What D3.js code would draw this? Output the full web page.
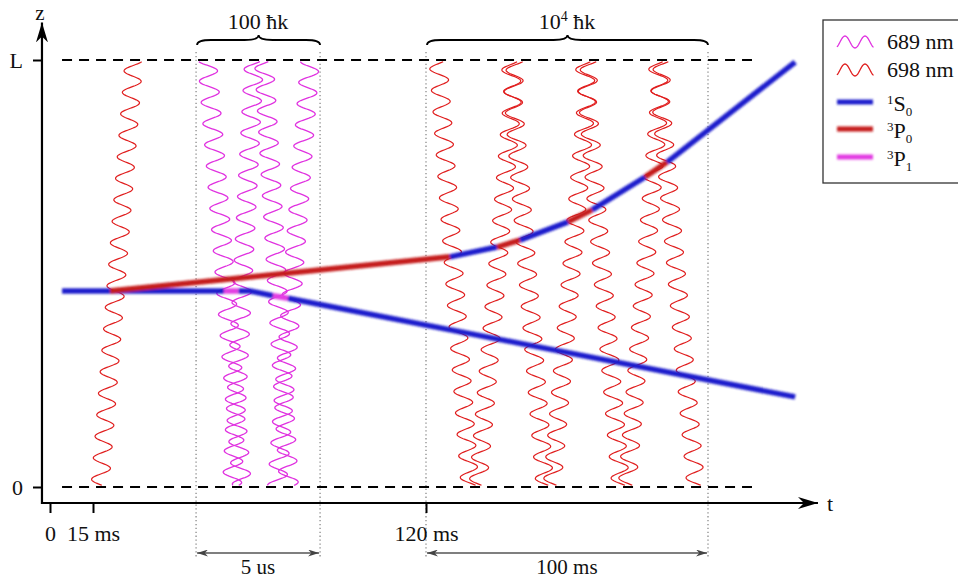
<!DOCTYPE html>
<html>
<head>
<meta charset="utf-8">
<script src="https://cdn.jsdelivr.net/npm/d3@7"></script>
<style>
  body { margin: 0; background: #fff; }
  svg { display: block; }
  svg text { font-family: "Liberation Serif", "Times New Roman", Times, "DejaVu Serif", serif; fill: #111; }
</style>
</head>
<body>
<div id="chart"></div>
<script>
// axis ticks
const timeTicks = [0, 15, 120];
const timeTickLabels = ["0", "15 ms", "120 ms"];
const zTicks = [0, 1];
const zTickLabels = ["0", "L"];

// pulse windows, in schematic ms along the time axis
const window689 = [47.5, 86.6];
const window698 = [120, 220];
const windowLabels = ["5 us", "100 ms"];

// laser pulses: centre time at the top (z = L) and at the bottom (z = 0)
const pulses698 = [
    { tTop: 27.9, tBottom: 17.2, phase: 0 },
    { tTop: 124.3, tBottom: 135.6, phase: 0.5 },
    { tTop: 149.8, tBottom: 162.2, phase: 0.2 },
    { tTop: 151.9, tBottom: 138.4, phase: 0.2 },
    { tTop: 176.0, tBottom: 189.1, phase: 0.3 },
    { tTop: 178.2, tBottom: 164.7, phase: 0.3 },
    { tTop: 201.9, tBottom: 215.7, phase: 0.4 },
    { tTop: 204.0, tBottom: 191.3, phase: 0.4 }
];
const pulses689 = [
    { tTop: 51.0, tBottom: 62.0, phase: 3.1 },
    { tTop: 65.8, tBottom: 58.8, phase: 0.4 },
    { tTop: 68.9, tBottom: 76.8, phase: 0.6 },
    { tTop: 83.4, tBottom: 73.0, phase: 2.8 }
];

// atom trajectories: [t (ms), z (fraction of L)] per internal state
const lowerArm = [
    { state: "1S0", pts: [[4.2, 0.459], [56.3, 0.459]] },
    { state: "3P1", pts: [[56.3, 0.459], [60.9, 0.459]] },
    { state: "1S0", pts: [[60.9, 0.459], [64.5, 0.459], [71.8, 0.448]] },
    { state: "3P1", pts: [[71.8, 0.448], [76.5, 0.442]] },
    { state: "1S0", pts: [[76.5, 0.442], [250.9, 0.211]] }
];
const upperArm = [
    { state: "3P0", pts: [[20.4, 0.459], [128.5, 0.539]] },
    { state: "1S0", pts: [[128.5, 0.539], [145.2, 0.562]] },
    { state: "3P0", pts: [[145.2, 0.562], [153.3, 0.578]] },
    { state: "1S0", pts: [[153.3, 0.578], [170.4, 0.621]] },
    { state: "3P0", pts: [[170.4, 0.621], [178.9, 0.649]] },
    { state: "1S0", pts: [[178.9, 0.649], [197.7, 0.726]] },
    { state: "3P0", pts: [[197.7, 0.726], [205.5, 0.761]] },
    { state: "1S0", pts: [[205.5, 0.761], [250.9, 0.995]] }
];

const stateColor = { "1S0": "#1f1fcc", "3P0": "#c51a1a", "3P1": "#e23ee2" };
const waveColor = { 689: "#e032e0", 698: "#e01e1e" };

const width = 958, height = 578;

const svg = d3.select("#chart")
    .append("svg")
    .attr("width", width)
    .attr("height", height);

// piecewise time axis (schematic)
const x = d3.scaleLinear()
    .domain([0, 15, 120, 220])
    .range([50, 93, 426, 708]);
const z = d3.scaleLinear()
    .domain([0, 1])
    .range([487, 60]);

const axisT = -2.8, axisZ = -0.0375;
const axisTEnd = 259, axisZEnd = 1.088;

const defs = svg.append("defs");
defs.append("filter")
    .attr("id", "soft")
    .attr("filterUnits", "userSpaceOnUse")
    .attr("x", -200).attr("y", -200)
    .attr("width", 1400).attr("height", 1000)
    .append("feGaussianBlur")
    .attr("stdDeviation", 1.1);

const arrow = (id, w, h, fill) => defs.append("marker")
    .attr("id", id)
    .attr("viewBox", `0 0 ${w} ${h}`)
    .attr("refX", w).attr("refY", h / 2)
    .attr("markerWidth", w).attr("markerHeight", h)
    .attr("markerUnits", "userSpaceOnUse")
    .attr("orient", "auto-start-reverse")
    .append("path")
    .attr("d", `M0,0 L${w},${h / 2} L0,${h} L${w * 0.3},${h / 2} Z`)
    .attr("fill", fill);
arrow("axisArrow", 20, 12, "#000");
arrow("dimArrow", 11, 7, "#444");

// dotted window boundaries
const bounds = [...window689, ...window698];
svg.append("g")
    .selectAll("line")
    .data(bounds)
    .join("line")
    .attr("x1", d => x(d)).attr("x2", d => x(d))
    .attr("y1", z(1) - 8).attr("y2", z(0) + 71)
    .attr("stroke", "#8a8a8a")
    .attr("stroke-width", 1.3)
    .attr("stroke-dasharray", "1.3,2.6");

// dashed lines at z = 0 and z = L
svg.append("g")
    .selectAll("line")
    .data(zTicks)
    .join("line")
    .attr("x1", x(4.2)).attr("x2", x(235.6))
    .attr("y1", d => z(d)).attr("y2", d => z(d))
    .attr("stroke", "#000")
    .attr("stroke-width", 2)
    .attr("stroke-dasharray", "10,7");

// laser pulses as wave packets
function wavePath(p, lambdaPx, amp) {
    const n = 600, span = z(0) - z(1);
    const pts = d3.range(n + 1).map(i => {
        const zz = 0.004 + 0.992 * i / n;
        const tc = p.tBottom + (p.tTop - p.tBottom) * zz;
        const s = (1 - zz) * span / lambdaPx;
        return [x(tc) + amp * Math.cos(2 * Math.PI * s + p.phase), z(zz)];
    });
    return d3.line()(pts);
}

svg.append("g")
    .selectAll("path")
    .data(pulses698)
    .join("path")
    .attr("d", d => wavePath(d, 21.5, 9))
    .attr("fill", "none")
    .attr("stroke", waveColor[698])
    .attr("stroke-width", 1.2);

svg.append("g")
    .selectAll("path")
    .data(pulses689)
    .join("path")
    .attr("d", d => wavePath(d, 21.2, 9.5))
    .attr("fill", "none")
    .attr("stroke", waveColor[689])
    .attr("stroke-width", 1.3);

// atom trajectories
const trajLine = d3.line()
    .x(d => x(d[0]))
    .y(d => z(d[1]));

const trajG = svg.append("g").attr("filter", "url(#soft)");
trajG.selectAll("path")
    .data([...lowerArm, ...upperArm])
    .join("path")
    .attr("d", d => trajLine(d.pts))
    .attr("fill", "none")
    .attr("stroke", d => stateColor[d.state])
    .attr("stroke-width", 5.5)
    .attr("stroke-linecap", "butt");

// axes
const xAxis = d3.axisBottom(x)
    .tickValues(timeTicks)
    .tickFormat((d, i) => timeTickLabels[i])
    .tickSize(10)
    .tickPadding(12);
svg.append("g")
    .attr("transform", `translate(0,${z(axisZ)})`)
    .call(xAxis)
    .call(g => g.select(".domain").remove())
    .call(g => g.selectAll(".tick line").attr("stroke-width", 2))
    .attr("font-size", 22);

const zAxis = d3.axisLeft(z)
    .tickValues(zTicks)
    .tickFormat((d, i) => zTickLabels[i])
    .tickSize(9)
    .tickPadding(10);
svg.append("g")
    .attr("transform", `translate(${x(axisT)},0)`)
    .call(zAxis)
    .call(g => g.select(".domain").remove())
    .call(g => g.selectAll(".tick line").attr("stroke-width", 2))
    .attr("font-size", 22);

svg.append("line")
    .attr("x1", x(axisT) - 1).attr("y1", z(axisZ))
    .attr("x2", x(axisTEnd)).attr("y2", z(axisZ))
    .attr("stroke", "#000").attr("stroke-width", 2.2)
    .attr("marker-end", "url(#axisArrow)");
svg.append("line")
    .attr("x1", x(axisT)).attr("y1", z(axisZ) + 1)
    .attr("x2", x(axisT)).attr("y2", z(axisZEnd))
    .attr("stroke", "#000").attr("stroke-width", 2.2)
    .attr("marker-end", "url(#axisArrow)");

svg.append("text")
    .attr("x", x(axisT) - 2).attr("y", 20)
    .attr("text-anchor", "middle")
    .attr("font-size", 21)
    .text("z");
svg.append("text")
    .attr("x", x(axisTEnd) + 12).attr("y", z(axisZ) + 8)
    .attr("text-anchor", "middle")
    .attr("font-size", 22)
    .text("t");

// duration arrows under the axis
[window689, window698].forEach((w, i) => {
    const yA = z(0) + 66;
    svg.append("line")
        .attr("x1", x(w[0]) + 1).attr("x2", x(w[1]) - 1)
        .attr("y1", yA).attr("y2", yA)
        .attr("stroke", "#555").attr("stroke-width", 1.5)
        .attr("marker-start", "url(#dimArrow)")
        .attr("marker-end", "url(#dimArrow)");
    svg.append("text")
        .attr("x", (x(w[0]) + x(w[1])) / 2).attr("y", yA + 21)
        .attr("text-anchor", "middle")
        .attr("font-size", 21)
        .text(windowLabels[i]);
});

// momentum braces above the windows
function bracePath(x1, x2, y, h) {
    const m = (x1 + x2) / 2, q = h / 2, r = Math.min(14, (x2 - x1) / 8);
    return `M${x1},${y} Q${x1},${y - q} ${x1 + r},${y - q} L${m - r},${y - q} ` +
        `Q${m},${y - q} ${m},${y - h} Q${m},${y - q} ${m + r},${y - q} ` +
        `L${x2 - r},${y - q} Q${x2},${y - q} ${x2},${y}`;
}
const braceLabels = [
    [{ t: "100 ħk" }],
    [{ t: "10" }, { t: "4", sup: true }, { t: " ħk" }]
];
[window689, window698].forEach((w, i) => {
    const yB = z(1) - 15;
    svg.append("path")
        .attr("d", bracePath(x(w[0]) + 1, x(w[1]), yB, 10))
        .attr("fill", "none")
        .attr("stroke", "#000")
        .attr("stroke-width", 1.8);
    const txt = svg.append("text")
        .attr("x", (x(w[0]) + x(w[1])) / 2).attr("y", yB - 16)
        .attr("text-anchor", "middle")
        .attr("font-size", 22);
    braceLabels[i].forEach(part => {
        txt.append("tspan")
            .attr("font-size", part.sup ? 14 : 22)
            .attr("dy", part.sup ? -8 : (part.t.startsWith(" ") ? 8 : 0))
            .text(part.t);
    });
});

// legend
const legend = svg.append("g").attr("transform", "translate(823,20)");
legend.append("rect")
    .attr("x", 0).attr("y", 0)
    .attr("width", 150).attr("height", 163)
    .attr("fill", "#fff")
    .attr("stroke", "#333")
    .attr("stroke-width", 1.3);

const legendWaves = [
    { nm: 689, label: "689 nm", y: 22 },
    { nm: 698, label: "698 nm", y: 50 }
];
legendWaves.forEach(d => {
    const pts = d3.range(0, 37, 0.5).map(u => [14 + u, d.y - 6 * Math.sin(2 * Math.PI * (u - 3) / 20)]);
    legend.append("path")
        .attr("d", d3.line()(pts))
        .attr("fill", "none")
        .attr("stroke", waveColor[d.nm])
        .attr("stroke-width", 1.3);
    legend.append("text")
        .attr("x", 64).attr("y", d.y + 7)
        .attr("font-size", 22)
        .text(d.label);
});

const legendStates = [
    { state: "1S0", sup: "1", main: "S", sub: "0", y: 82 },
    { state: "3P0", sup: "3", main: "P", sub: "0", y: 109 },
    { state: "3P1", sup: "3", main: "P", sub: "1", y: 137 }
];
legendStates.forEach(d => {
    legend.append("line")
        .attr("x1", 14).attr("x2", 50)
        .attr("y1", d.y).attr("y2", d.y)
        .attr("stroke", stateColor[d.state])
        .attr("stroke-width", 5)
        .attr("filter", "url(#soft)");
    const t = legend.append("text")
        .attr("x", 64).attr("y", d.y + 9)
        .attr("font-size", 22);
    t.append("tspan").attr("font-size", 13).attr("dy", -7).text(d.sup);
    t.append("tspan").attr("dy", 7).text(d.main);
    t.append("tspan").attr("font-size", 13).attr("dy", 5).text(d.sub);
});
</script>
</body>
</html>
